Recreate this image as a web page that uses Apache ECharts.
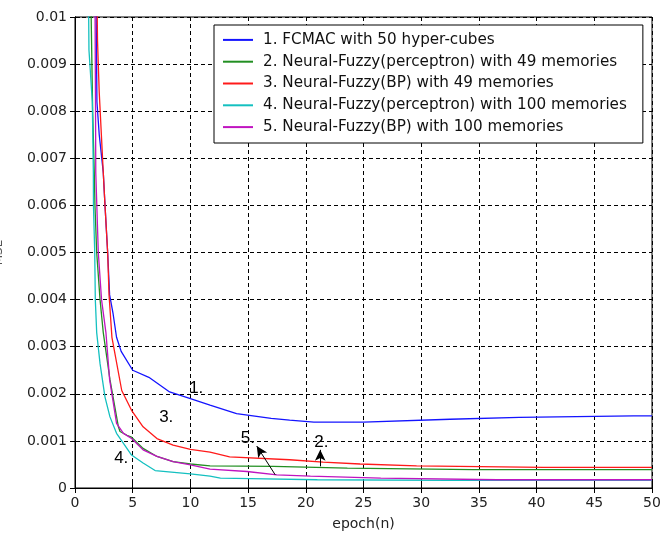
<!DOCTYPE html>
<html>
<head>
<meta charset="utf-8">
<script src="https://cdn.jsdelivr.net/npm/echarts@6/dist/echarts.min.js"></script>
<style>
  html, body { margin: 0; padding: 0; background: #fff; }
  #chart { width: 662px; height: 540px; }
</style>
</head>
<body>
<div id="chart"></div>
<script>
// series names, in legend order
const seriesNames = [
    '1. FCMAC with 50 hyper-cubes',
    '2. Neural-Fuzzy(perceptron) with 49 memories',
    '3. Neural-Fuzzy(BP) with 49 memories',
    '4. Neural-Fuzzy(perceptron) with 100 memories',
    '5. Neural-Fuzzy(BP) with 100 memories'
];
const seriesColors = ['#1414ff', '#228f22', '#ff1a1a', '#14c0c0', '#c014c0'];

// [epoch, MSE]
const fcmac50 = [
    [1.8, 0.0110], [1.9, 0.0082], [2.1, 0.0075], [2.45, 0.0067], [2.6, 0.0060],
    [2.83, 0.0050], [3.0, 0.0041], [3.3, 0.0037], [3.6, 0.0032], [4, 0.0029],
    [5, 0.0025], [6.4, 0.00235], [8.2, 0.00204], [10, 0.0019], [11.7, 0.00176],
    [14, 0.00158], [17, 0.00148], [18.6, 0.00144], [20.7, 0.0014], [25, 0.0014],
    [32.5, 0.00146], [38.5, 0.0015], [48.4, 0.00153], [50, 0.00153]
];
const perceptron49 = [
    [1.35, 0.0108], [1.53, 0.0080], [1.67, 0.0067], [1.73, 0.0060], [1.88, 0.0050],
    [2.17, 0.0040], [2.45, 0.0033], [3.03, 0.0023], [3.76, 0.0013], [3.9, 0.0012],
    [4.5, 0.00112], [4.9, 0.00108], [5.9, 0.00084], [7.1, 0.00067], [8.5, 0.00056],
    [10, 0.00051], [11.7, 0.00047], [17.2, 0.00046], [23.6, 0.00042], [34.5, 0.00039],
    [50, 0.00039]
];
const bp49 = [
    [1.88, 0.0110], [1.95, 0.0095], [2.1, 0.0084], [2.45, 0.0067], [2.6, 0.0060],
    [2.83, 0.0050], [2.95, 0.0041], [3.2, 0.0032], [4.05, 0.00207], [4.9, 0.00165],
    [5.9, 0.0013], [7.1, 0.00105], [8.5, 0.00091], [10, 0.00082], [11.7, 0.00076],
    [13.4, 0.00066], [18.6, 0.0006], [21.5, 0.00055], [24.7, 0.00051], [29.6, 0.00047],
    [40.6, 0.00044], [50, 0.00044]
];
const perceptron100 = [
    [1.15, 0.0110], [1.21, 0.0093], [1.5, 0.0082], [1.59, 0.0067], [1.6, 0.0060],
    [1.71, 0.0050], [1.76, 0.0040], [1.88, 0.0033], [2.17, 0.00264], [2.6, 0.00193],
    [3.03, 0.00151], [3.6, 0.00116], [4.9, 0.0007], [5.9, 0.00053], [6.94, 0.00037],
    [10, 0.0003], [11.7, 0.00025], [12.6, 0.00021], [15.2, 0.0002], [21, 0.000175],
    [32.5, 0.00016], [50, 0.00016]
];
const bp100 = [
    [1.72, 0.0110], [1.78, 0.0080], [1.8, 0.0067], [2.02, 0.0050], [2.3, 0.0040],
    [2.68, 0.0033], [3.0, 0.0023], [3.6, 0.00137], [4.2, 0.00116], [4.9, 0.00105],
    [5.9, 0.00081], [7.1, 0.00067], [8.5, 0.00056], [10, 0.00049], [11.7, 0.0004],
    [14.9, 0.00035], [17.5, 0.00028], [20.4, 0.00025], [26.5, 0.00021], [36.6, 0.000175],
    [50, 0.000175]
];
const allSeries = [fcmac50, perceptron49, bp49, perceptron100, bp100];

// curve labels and arrows
const annoText = ['1.', '2.', '3.', '4.', '5.'];
const annoPos = [[10.55, 0.00211], [21.4, 0.00095], [7.95, 0.00148], [4.05, 0.00063], [15.03, 0.00105]];
const arrowFrom = [[17.35, 0.00028], [21.25, 0.00046]];
const arrowTo = [[15.75, 0.00089], [21.25, 0.00081]];

// tick labels
const xTickLabels = ['0', '5', '10', '15', '20', '25', '30', '35', '40', '45', '50'];
const yTickLabels = ['0', '0.001', '0.002', '0.003', '0.004', '0.005', '0.006', '0.007', '0.008', '0.009', '0.01'];

const chart = echarts.init(document.getElementById('chart'));

const tickFont = { fontFamily: 'DejaVu Sans', fontSize: 14, color: '#222' };
const dashed = { show: true, lineStyle: { color: '#000', type: [4, 3], width: 1 } };
const axisLine = { show: true, lineStyle: { color: '#000', width: 1 } };
const tickIn = { show: true, inside: true, length: 5, lineStyle: { color: '#000' } };

const series = allSeries.map((d, i) => ({
    name: seriesNames[i],
    type: 'line',
    data: d,
    showSymbol: false,
    symbol: 'none',
    lineStyle: { color: seriesColors[i], width: 1.3 },
    itemStyle: { color: seriesColors[i] },
    animation: false,
    z: 3
}));

series.push({
    name: 'labels',
    type: 'scatter',
    data: annoPos.map((p, i) => [p[0], p[1], annoText[i]]),
    symbolSize: 1,
    itemStyle: { color: 'rgba(0,0,0,0)' },
    label: {
        show: true, position: [0, 0], align: 'center', verticalAlign: 'middle',
        formatter: p => p.data[2],
        fontFamily: 'Liberation Sans', fontSize: 17, color: '#000', opacity: 1
    },
    markLine: {
        silent: true,
        symbol: ['none', 'arrow'],
        symbolSize: [8, 11],
        label: { show: false },
        lineStyle: { color: '#000', type: 'solid', width: 1 },
        data: arrowFrom.map((f, i) => [{ coord: f }, { coord: arrowTo[i] }])
    },
    animation: false,
    z: 5
});

chart.setOption({
    backgroundColor: '#fff',
    animation: false,
    grid: {
        left: 75, right: 10, top: 17, bottom: 52,
        outerBoundsMode: 'none', containLabel: false,
        show: true, borderColor: '#000', borderWidth: 1
    },
    legend: {
        data: seriesNames,
        orient: 'vertical',
        left: 214,
        top: 25,
        icon: 'rect',
        itemWidth: 30,
        itemHeight: 2,
        itemGap: 0,
        padding: [4, 16, 5, 9],
        backgroundColor: '#fff',
        borderColor: '#000',
        borderWidth: 1,
        borderRadius: 0,
        textStyle: { fontFamily: 'DejaVu Sans', fontSize: 15.2, color: '#111', lineHeight: 21.8, padding: [0, 0, 0, 5] }
    },
    xAxis: [{
        type: 'value', min: 0, max: 50, interval: 5,
        name: 'epoch(n)', nameLocation: 'middle', nameGap: 29,
        nameTextStyle: { fontFamily: 'DejaVu Sans', fontSize: 14, color: '#222' },
        axisLine: axisLine, axisTick: tickIn, splitLine: dashed,
        axisLabel: Object.assign({ margin: 8, formatter: v => xTickLabels[Math.round(v / 5)] }, tickFont)
    }, {
        type: 'value', min: 0, max: 50, interval: 5, position: 'top',
        axisLine: axisLine, axisTick: tickIn, splitLine: { show: false }, axisLabel: { show: false }
    }],
    yAxis: [{
        type: 'value', min: 0, max: 0.01, interval: 0.001,
        name: 'MSE', nameLocation: 'middle', nameGap: 70,
        nameTextStyle: { fontFamily: 'DejaVu Sans', fontSize: 12, color: '#555' },
        axisLine: axisLine, axisTick: tickIn, splitLine: dashed,
        axisLabel: Object.assign({ margin: 8, formatter: v => yTickLabels[Math.round(v * 1000)] }, tickFont)
    }, {
        type: 'value', min: 0, max: 0.01, interval: 0.001, position: 'right',
        axisLine: axisLine, axisTick: tickIn, splitLine: { show: false }, axisLabel: { show: false }
    }],
    series: series
});
</script>
</body>
</html>
